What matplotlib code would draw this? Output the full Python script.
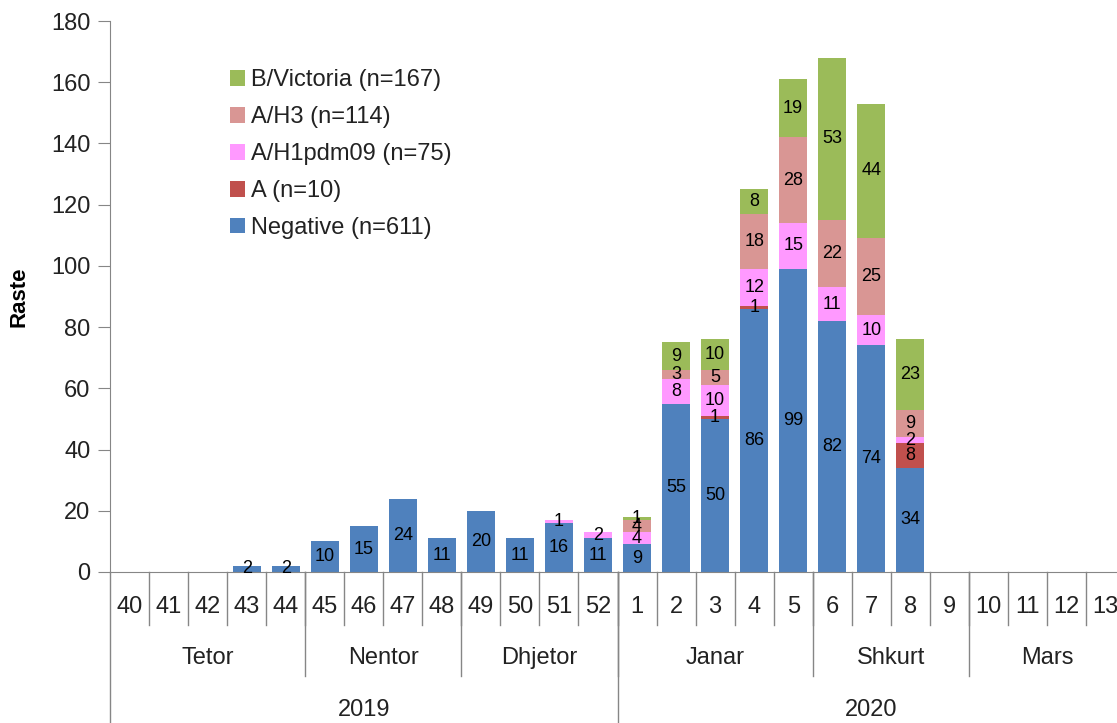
import numpy as np
import matplotlib
matplotlib.use('Agg')
import matplotlib.pyplot as plt
import matplotlib.transforms as mtransforms

matplotlib.rcParams['font.family'] = ['Liberation Sans', 'DejaVu Sans']

# Javët e sezonit
weeks = ['40', '41', '42', '43', '44', '45', '46', '47', '48', '49', '50', '51', '52',
         '1', '2', '3', '4', '5', '6', '7', '8', '9', '10', '11', '12', '13']
months = ['Tetor', 'Nentor', 'Dhjetor', 'Janar', 'Shkurt', 'Mars']
month_len = [5, 4, 4, 5, 4, 4]
years = ['2019', '2020']
year_len = [13, 13]

negative = [0, 0, 0, 2, 2, 10, 15, 24, 11, 20, 11, 16, 11,
            9, 55, 50, 86, 99, 82, 74, 34, 0, 0, 0, 0, 0]
a_unsub = [0, 0, 0, 0, 0, 0, 0, 0, 0, 0, 0, 0, 0,
           0, 0, 1, 1, 0, 0, 0, 8, 0, 0, 0, 0, 0]
h1pdm = [0, 0, 0, 0, 0, 0, 0, 0, 0, 0, 0, 1, 2,
         4, 8, 10, 12, 15, 11, 10, 2, 0, 0, 0, 0, 0]
h3 = [0, 0, 0, 0, 0, 0, 0, 0, 0, 0, 0, 0, 0,
      4, 3, 5, 18, 28, 22, 25, 9, 0, 0, 0, 0, 0]
b_vic = [0, 0, 0, 0, 0, 0, 0, 0, 0, 0, 0, 0, 0,
         1, 9, 10, 8, 19, 53, 44, 23, 0, 0, 0, 0, 0]

series = [
    ('Negative (n=611)', negative, '#4F81BD'),
    ('A (n=10)', a_unsub, '#C0504D'),
    ('A/H1pdm09 (n=75)', h1pdm, '#FF99FF'),
    ('A/H3 (n=114)', h3, '#D99694'),
    ('B/Victoria (n=167)', b_vic, '#9BBB59'),
]

fig = plt.figure(figsize=(11.17, 7.23), dpi=100)
ax = fig.add_axes([110 / 1117, 151 / 723, 1015 / 1117, 551 / 723])

x = np.arange(len(weeks))
bottom = np.zeros(len(weeks))
handles = []
for name, vals, col in series:
    vals = np.array(vals, dtype=float)
    b = ax.bar(x, vals, 0.72, bottom=bottom, color=col, label=name, zorder=2)
    handles.append(b)
    for xi, v, bt in zip(x, vals, bottom):
        if v > 0:
            ax.text(xi, bt + v / 2, str(int(v)), ha='center', va='center',
                    fontsize=13, color='black', zorder=3)
    bottom += vals

ax.set_xlim(-0.5, len(weeks) - 0.5)
ax.set_ylim(0, 180)
ax.set_yticks(range(0, 181, 20))
ax.tick_params(axis='y', labelsize=17, length=9, color='#868686', pad=5,
               labelcolor='#222222')
ax.set_xticks([])
for s in ['top', 'right']:
    ax.spines[s].set_visible(False)
ax.spines['left'].set_color('#868686')
ax.spines['bottom'].set_color('#868686')
ax.set_ylabel('Raste', fontsize=16, fontweight='bold')
ax.yaxis.set_label_coords(-80 / 1015, 0.5)

# Boshti kategorik me tre nivele
trans = mtransforms.blended_transform_factory(ax.transData, ax.transAxes)
lc = '#868686'
y_week = -53 / 551
y_month = -104 / 551
y_year = -160 / 551
for i, w in enumerate(weeks):
    ax.text(i, -35 / 551, w, transform=trans, ha='center', va='center',
            fontsize=17, color='#222222')
    if i > 0:
        ax.plot([i - 0.5, i - 0.5], [0, y_week], transform=trans, color=lc, lw=1, clip_on=False)

start = 0
for m, n in zip(months, month_len):
    ax.text(start + n / 2 - 0.5, -86 / 551, m, transform=trans, ha='center', va='center',
            fontsize=17, color='#222222')
    if start > 0:
        ax.plot([start - 0.5, start - 0.5], [0, y_month], transform=trans, color=lc, lw=1, clip_on=False)
    start += n

start = 0
for yr, n in zip(years, year_len):
    ax.text(start + n / 2 - 0.5, -138 / 551, yr, transform=trans, ha='center', va='center',
            fontsize=17, color='#222222')
    ax.plot([start - 0.5, start - 0.5], [0, y_year], transform=trans, color=lc, lw=1, clip_on=False)
    start += n

leg = ax.legend(handles[::-1], [s[0] for s in series][::-1], loc='upper left',
                bbox_to_anchor=(0.118, 0.912), frameon=False, fontsize=17,
                handlelength=0.64, handleheight=0.64, handletextpad=0.25,
                labelspacing=0.63, borderpad=0, borderaxespad=0)
for t in leg.get_texts():
    t.set_color('#222222')

plt.savefig('out.png', dpi=100)
